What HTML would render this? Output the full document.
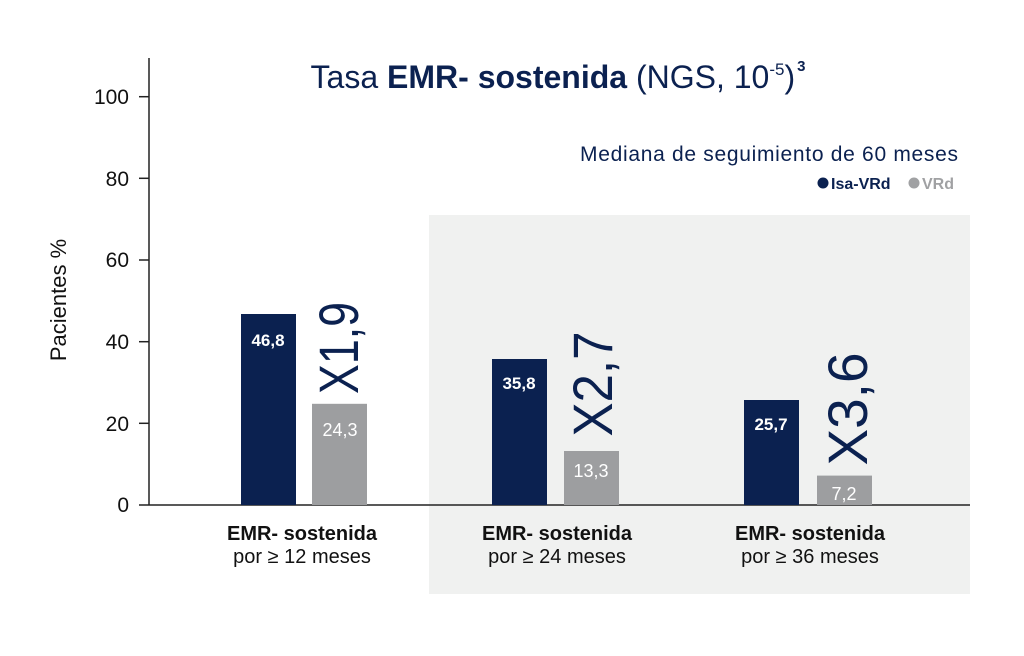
<!DOCTYPE html>
<html><head><meta charset="utf-8"><style>
body{margin:0;background:#fff;}
svg{display:block;font-family:"Liberation Sans",sans-serif;}
</style></head><body>
<svg width="1024" height="656" viewBox="0 0 1024 656">
<rect x="429" y="215" width="541" height="379" fill="#f0f1f0"/>
<!-- axis -->
<line x1="149" y1="58" x2="149" y2="505" stroke="#222" stroke-width="1.5"/>
<line x1="139" y1="505" x2="970" y2="505" stroke="#222" stroke-width="1.5"/>
<g stroke="#222" stroke-width="1.5">
<line x1="139" y1="96.7" x2="149" y2="96.7"/><line x1="139" y1="178.3" x2="149" y2="178.3"/>
<line x1="139" y1="260" x2="149" y2="260"/><line x1="139" y1="341.7" x2="149" y2="341.7"/>
<line x1="139" y1="423.3" x2="149" y2="423.3"/></g>
<g font-size="21" fill="#111" text-anchor="end">
<text x="129" y="104">100</text><text x="129" y="186">80</text><text x="129" y="267">60</text>
<text x="129" y="349">40</text><text x="129" y="431">20</text><text x="129" y="512">0</text></g>
<text transform="translate(66,300) rotate(-90)" font-size="22" fill="#111" text-anchor="middle">Pacientes %</text>
<!-- title -->
<text x="558" y="88" font-size="32" fill="#0b2150" text-anchor="middle">Tasa <tspan font-weight="bold">EMR- sostenida</tspan> (NGS, 10<tspan font-size="17" dy="-13">-5</tspan><tspan dy="13">)</tspan><tspan font-size="15" font-weight="bold" dy="-17" dx="2">3</tspan></text>
<text x="958" y="161" font-size="21" fill="#0b2150" text-anchor="end" textLength="378">Mediana de seguimiento de 60 meses</text>
<circle cx="823" cy="183" r="5.5" fill="#0b2150"/>
<text x="831" y="189" font-size="16" font-weight="bold" fill="#0b2150">Isa-VRd</text>
<circle cx="914" cy="183" r="5.5" fill="#a0a1a3"/>
<text x="922" y="189" font-size="16" font-weight="bold" fill="#a0a1a3">VRd</text>
<!-- bars -->
<rect x="241" y="314" width="55" height="191" fill="#0b2150"/>
<rect x="312" y="403.8" width="55" height="101.2" fill="#9d9ea0"/>
<rect x="492" y="359" width="55" height="146" fill="#0b2150"/>
<rect x="564" y="451" width="55" height="54" fill="#9d9ea0"/>
<rect x="744" y="400" width="55" height="105" fill="#0b2150"/>
<rect x="817" y="475.6" width="55" height="29.4" fill="#9d9ea0"/>
<g font-size="17" font-weight="bold" fill="#fff" text-anchor="middle">
<text x="268" y="346">46,8</text><text x="519" y="389">35,8</text><text x="771" y="430">25,7</text></g>
<g font-size="18" fill="#fff" text-anchor="middle">
<text x="340" y="436">24,3</text><text x="591" y="477">13,3</text><text x="844" y="500">7,2</text></g>
<g font-size="56" fill="#0b2150" text-anchor="middle">
<text transform="translate(358,348) rotate(-90)" textLength="92" lengthAdjust="spacingAndGlyphs">X1,9</text>
<text transform="translate(612,384) rotate(-90)" textLength="105" lengthAdjust="spacingAndGlyphs">X2,7</text>
<text transform="translate(867,409) rotate(-90)" textLength="113" lengthAdjust="spacingAndGlyphs">X3,6</text></g>
<g font-size="20" fill="#111" text-anchor="middle">
<text x="302" y="540" font-weight="bold">EMR- sostenida</text><text x="302" y="563">por ≥ 12 meses</text>
<text x="557" y="540" font-weight="bold">EMR- sostenida</text><text x="557" y="563">por ≥ 24 meses</text>
<text x="810" y="540" font-weight="bold">EMR- sostenida</text><text x="810" y="563">por ≥ 36 meses</text></g>
</svg>
</body></html>
